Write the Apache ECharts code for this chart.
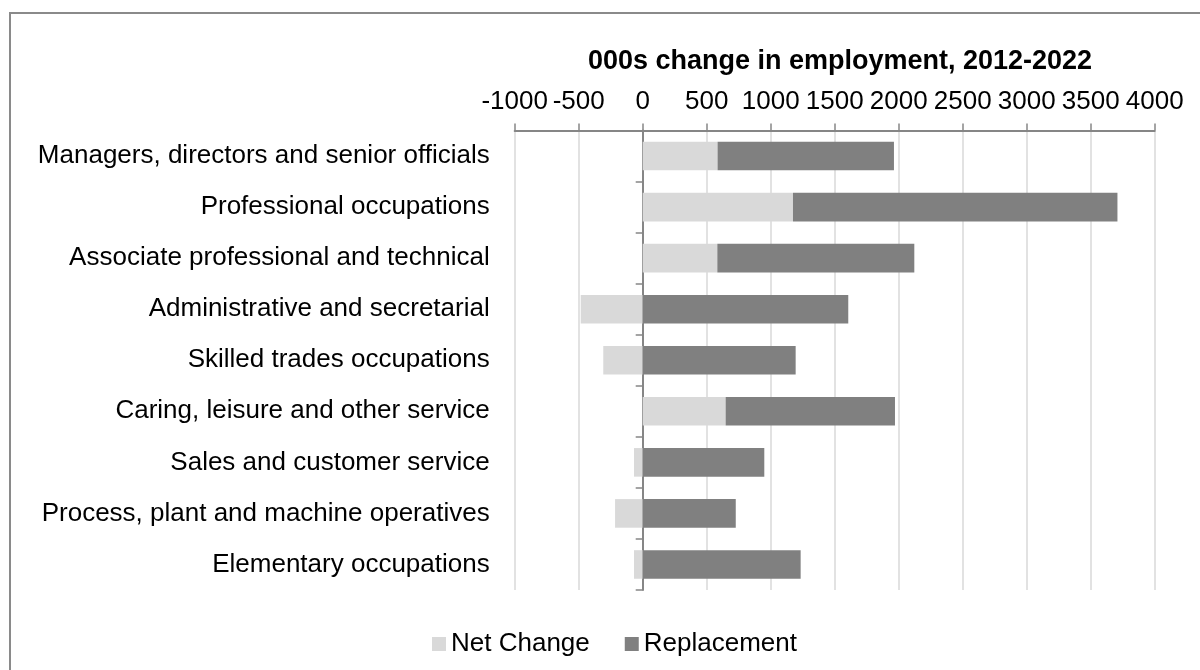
<!DOCTYPE html>
<html>
<head>
<meta charset="utf-8">
<title>Change in employment by occupation, 2012-2022</title>
<script src="https://cdn.jsdelivr.net/npm/echarts@6/dist/echarts.min.js"></script>
<style>
  html, body { margin: 0; padding: 0; background: #ffffff; }
  #chart { width: 1200px; height: 670px; }
</style>
</head>
<body>
<div id="chart"></div>
<script>
// Occupation groups, top to bottom
const categories = [
  'Managers, directors and senior officials',
  'Professional occupations',
  'Associate professional and technical',
  'Administrative and secretarial',
  'Skilled trades occupations',
  'Caring, leisure and other service',
  'Sales and customer service',
  'Process, plant and machine operatives',
  'Elementary occupations'
];

// 000s change in employment, 2012-2022
const netChange   = [585, 1174, 583, -484, -308, 648, -68, -216, -68];
const replacement = [1378, 2535, 1539, 1606, 1195, 1323, 950, 727, 1234];

const seriesNames = ['Net Change', 'Replacement'];
const axisTitle = '000s change in employment, 2012-2022';

// value axis range and step
const axisMin = -1000;
const axisMax = 4000;
const axisStep = 500;

const FONT = '"Liberation Sans", Arial, Helvetica, sans-serif';
const AXIS_GREY = '#868686';

const chart = echarts.init(document.getElementById('chart'), null, { renderer: 'canvas' });

chart.setOption({
  backgroundColor: '#ffffff',
  animation: false,
  textStyle: { fontFamily: FONT },
  graphic: [
    {
      type: 'rect',
      shape: { x: 10, y: 13, width: 1400, height: 900 },
      style: { fill: null, stroke: '#8a8a8a', lineWidth: 2 },
      silent: true
    },
    {
      type: 'text',
      x: 840,
      y: 62,
      style: {
        text: axisTitle,
        fontFamily: FONT,
        fontSize: 27,
        fontWeight: 'bold',
        fill: '#000000',
        align: 'center',
        verticalAlign: 'middle'
      },
      silent: true
    }
  ],
  legend: {
    data: seriesNames,
    left: 432,
    top: 631,
    padding: 0,
    icon: 'rect',
    itemWidth: 14,
    itemHeight: 14,
    itemGap: 35,
    textStyle: { fontFamily: FONT, fontSize: 26, color: '#000000' }
  },
  grid: {
    left: 514.7,
    right: 45.3,
    top: 130.5,
    height: 459.5,
    containLabel: false,
    outerBoundsMode: 'none'
  },
  xAxis: {
    type: 'value',
    position: 'top',
    min: axisMin,
    max: axisMax,
    interval: axisStep,
    axisLine: { show: true, lineStyle: { color: AXIS_GREY, width: 2 } },
    axisTick: { show: true, length: 7, lineStyle: { color: AXIS_GREY, width: 1.5 } },
    axisLabel: {
      margin: 16,
      fontFamily: FONT,
      fontSize: 26,
      color: '#000000',
      showMinLabel: true,
      showMaxLabel: true,
      hideOverlap: false,
      formatter: (v) => String(v)
    },
    splitLine: { show: true, lineStyle: { color: '#d9d9d9', width: 1.5 } }
  },
  yAxis: {
    type: 'category',
    data: categories,
    inverse: true,
    axisLine: { show: true, onZero: true, lineStyle: { color: AXIS_GREY, width: 2 } },
    axisTick: { show: true, length: 7, alignWithLabel: false, lineStyle: { color: AXIS_GREY, width: 1.5 } },
    axisLabel: {
      margin: 25,
      fontFamily: FONT,
      fontSize: 26,
      color: '#000000'
    },
    splitLine: { show: false }
  },
  series: [
    {
      name: seriesNames[0],
      type: 'bar',
      stack: 'total',
      data: netChange,
      barWidth: '56%',
      itemStyle: { color: '#d9d9d9' }
    },
    {
      name: seriesNames[1],
      type: 'bar',
      stack: 'total',
      data: replacement,
      barWidth: '56%',
      itemStyle: { color: '#808080' }
    }
  ]
});
</script>
</body>
</html>
